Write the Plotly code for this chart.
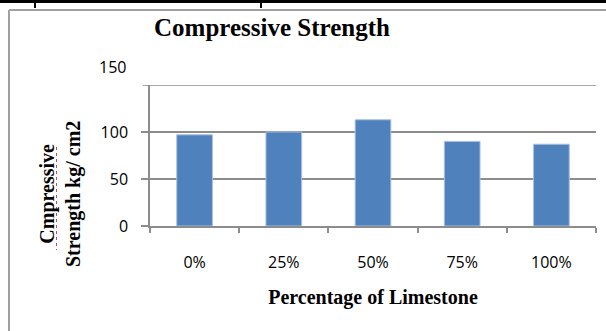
import plotly.graph_objects as go

categories = ["0%", "25%", "50%", "75%", "100%"]
strength = [97, 100, 113, 90, 87]
y_ticks = [0, 50, 100]
y_top = 150

fig = go.Figure()
fig.add_trace(go.Bar(
    x=categories, y=strength,
    marker=dict(color="#4F81BD", line=dict(color="#A9C0E0", width=1)),
    width=0.4,
))

grid = "#8C8C8C"
L, T, W, H = 150, 85, 446, 141


def px(x):
    return (x - L) / W


def py(y):
    return 1 - (y - T) / H


fig.update_layout(
    width=606, height=331,
    margin=dict(l=150, r=10, t=85, b=105),
    paper_bgcolor="white", plot_bgcolor="white",
    showlegend=False,
    title=dict(text="<b>Compressive Strength</b>", x=272/606, xanchor="center",
               y=1-27/331, yanchor="middle",
               font=dict(family="Liberation Serif", size=25, color="black")),
    xaxis=dict(
        type="category", showline=True, linecolor=grid, linewidth=1.5,
        ticks="outside", tickson="boundaries", ticklen=5, tickcolor=grid, tickwidth=1.5,
        tickfont=dict(family="Open Sans", size=16, color="black"),
        ticklabelstandoff=21,
        title=dict(text="<b>Percentage of Limestone</b>", standoff=18,
                   font=dict(family="Liberation Serif", size=20, color="black")),
        showgrid=False,
    ),
    yaxis=dict(
        range=[0, y_top], tickvals=y_ticks, ticktext=[str(v) for v in y_ticks],
        showline=True, linecolor=grid, linewidth=1.5,
        ticks="outside", ticklen=7, tickcolor=grid, tickwidth=1.5,
        ticklabelstandoff=10,
        showgrid=True, gridcolor=grid, gridwidth=1.5,
        tickfont=dict(family="Open Sans", size=16, color="black"),
        zeroline=False,
    ),
)

# y-axis title as rotated annotation
fig.add_annotation(text="<b>Cmpressive<br>Strength kg/ cm2</b>", xref="paper", yref="paper",
                   x=px(60), y=py(194), xanchor="center", yanchor="middle",
                   textangle=-90, showarrow=False,
                   font=dict(family="Liberation Serif", size=20, color="black"))
# spell-check underline
fig.add_shape(type="line", xref="paper", yref="paper", x0=px(56.5), x1=px(56.5),
              y0=py(147), y1=py(250), line=dict(color="#E04040", width=1, dash="dot"))

# top gridline at 150 (plot top)
fig.add_shape(type="line", xref="paper", yref="y", x0=0, x1=1, y0=y_top, y1=y_top,
              line=dict(color=grid, width=1.5))
fig.add_shape(type="line", xref="paper", yref="y", x0=-0.016, x1=0, y0=y_top, y1=y_top,
              line=dict(color=grid, width=1.5))
fig.add_annotation(text=str(y_top), xref="paper", yref="y", x=-22/446, y=y_top,
                   xanchor="right", yanchor="middle", yshift=18, showarrow=False,
                   font=dict(family="Open Sans", size=16, color="black"))

# document frame (gray chart border and black table line)
fig.add_shape(type="line", xref="paper", yref="paper",
              x0=px(9), x1=px(606), y0=py(10), y1=py(10),
              line=dict(color="#A0A0A0", width=2))
fig.add_shape(type="line", xref="paper", yref="paper",
              x0=px(9), x1=px(9), y0=py(10), y1=py(331),
              line=dict(color="#A0A0A0", width=2))
fig.add_shape(type="line", xref="paper", yref="paper",
              x0=px(0), x1=px(606), y0=py(1.5), y1=py(1.5),
              line=dict(color="black", width=3))
for xv in (35, 261):
    fig.add_shape(type="line", xref="paper", yref="paper",
                  x0=px(xv), x1=px(xv), y0=py(0), y1=py(8),
                  line=dict(color="black", width=2))

fig.write_html("out.html")
